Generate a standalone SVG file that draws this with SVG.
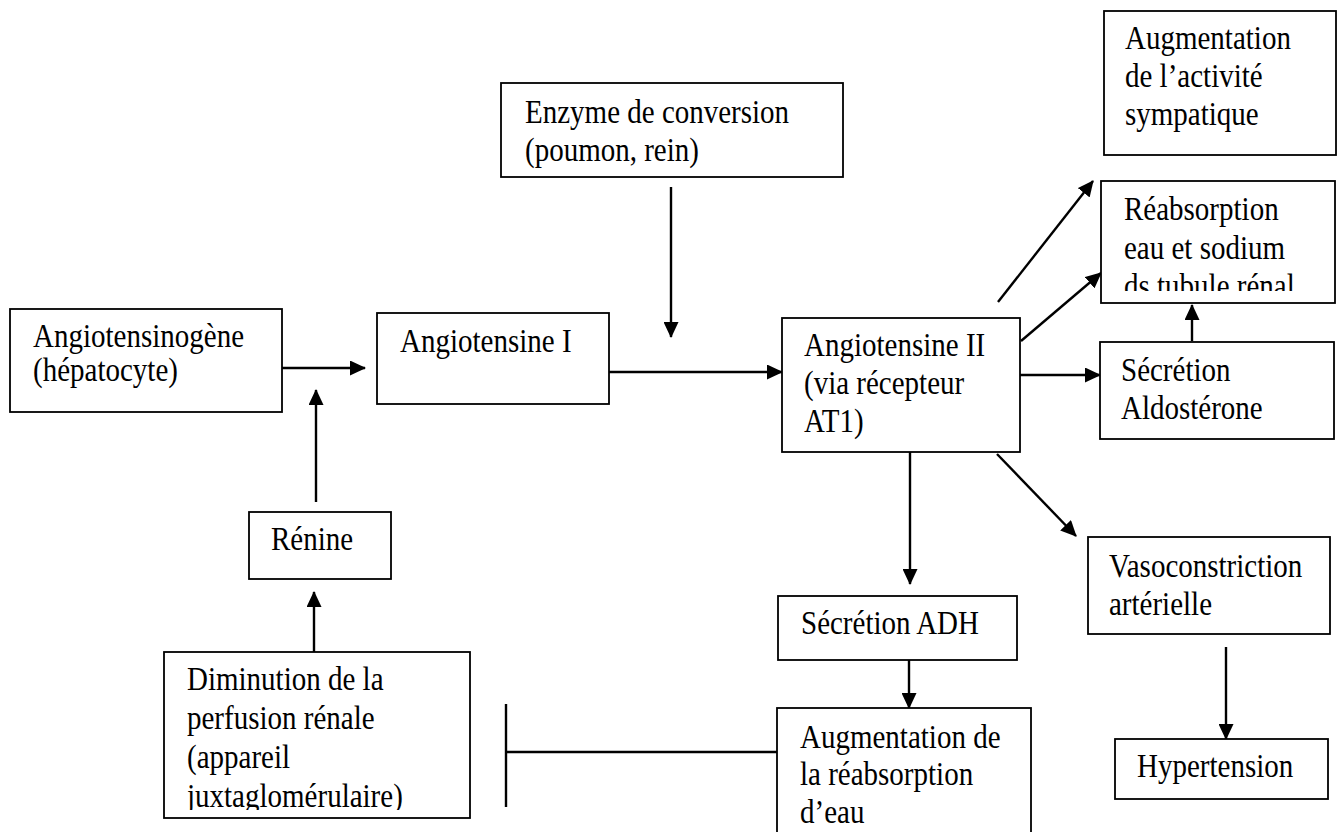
<svg xmlns="http://www.w3.org/2000/svg" width="1344" height="832" viewBox="0 0 1344 832">
<style>
.box{fill:#fff;stroke:#000;stroke-width:1.8}
.t{font-family:"Liberation Serif","Times New Roman",serif;font-size:29px;fill:#000}
.c{stroke:#000;stroke-width:2.4;fill:none}
.ca{stroke:#000;stroke-width:2.4;fill:none;marker-end:url(#ah)}
</style>
<defs>
<marker id="ah" markerUnits="userSpaceOnUse" markerWidth="16" markerHeight="15" viewBox="0 0 16 15" refX="15" refY="7.5" orient="auto">
<path d="M0,0 L16,7.5 L0,15 z" fill="#000"/>
</marker>
<clipPath id="clipR"><rect x="1100" y="178" width="236" height="113"/></clipPath>
<clipPath id="clipD"><rect x="163" y="650" width="310" height="160"/></clipPath>
</defs>
<rect width="1344" height="832" fill="#fff"/>

<g id="connectors">
<line class="ca" x1="282" y1="368" x2="365" y2="368"/>
<line class="ca" x1="316" y1="502" x2="316" y2="390"/>
<line class="ca" x1="314" y1="652" x2="314" y2="592"/>
<line class="ca" x1="671" y1="187" x2="671" y2="337"/>
<line class="ca" x1="609" y1="372" x2="782" y2="372"/>
<line class="ca" x1="998" y1="302" x2="1093" y2="181"/>
<line class="ca" x1="1021" y1="341" x2="1101" y2="273"/>
<line class="ca" x1="1020" y1="375" x2="1100" y2="375"/>
<line class="ca" x1="1192" y1="341" x2="1192" y2="305"/>
<line class="ca" x1="910" y1="452" x2="910" y2="584"/>
<line class="ca" x1="997" y1="454" x2="1076" y2="536"/>
<line class="ca" x1="909" y1="660" x2="909" y2="708"/>
<line class="ca" x1="1226" y1="647" x2="1226" y2="739"/>
<line class="c" x1="506" y1="752" x2="777" y2="752"/>
<line class="c" x1="506" y1="704" x2="506" y2="807"/>
</g>

<g id="angiotensinogene">
<rect class="box" x="10" y="309" width="272" height="103"/>
<text class="t" transform="translate(33,347) scale(1,1.15)"><tspan x="0" y="0">Angiotensinogène</tspan><tspan x="0" dy="29.6">(hépatocyte)</tspan></text>
</g>

<g id="angiotensine-i">
<rect class="box" x="377" y="313" width="232" height="91"/>
<text class="t" transform="translate(400,352) scale(1,1.15)"><tspan x="0" y="0">Angiotensine I</tspan></text>
</g>

<g id="enzyme">
<rect class="box" x="501" y="83" width="342" height="94"/>
<text class="t" transform="translate(525,123) scale(1,1.15)"><tspan x="0" y="0">Enzyme de conversion</tspan><tspan x="0" dy="33">(poumon, rein)</tspan></text>
</g>

<g id="angiotensine-ii">
<rect class="box" x="782" y="318" width="238" height="134"/>
<text class="t" transform="translate(804,356) scale(1,1.15)"><tspan x="0" y="0">Angiotensine II</tspan><tspan x="0" dy="33">(via récepteur</tspan><tspan x="0" dy="33">AT1)</tspan></text>
</g>

<g id="activite-sympatique">
<rect class="box" x="1104" y="11" width="232" height="144"/>
<text class="t" transform="translate(1125,49) scale(1,1.15)"><tspan x="0" y="0">Augmentation</tspan><tspan x="0" dy="33">de l’activité</tspan><tspan x="0" dy="33">sympatique</tspan></text>
</g>

<g id="reabsorption-sodium">
<rect class="box" x="1101" y="181" width="234" height="122"/>
<g clip-path="url(#clipR)">
<text class="t" transform="translate(1124,220) scale(1,1.15)"><tspan x="0" y="0">Réabsorption</tspan><tspan x="0" dy="33.5">eau et sodium</tspan><tspan x="0" dy="33.5">ds tubule rénal</tspan></text>
</g>
</g>

<g id="aldosterone">
<rect class="box" x="1100" y="342" width="234" height="97"/>
<text class="t" transform="translate(1121,381) scale(1,1.15)"><tspan x="0" y="0">Sécrétion</tspan><tspan x="0" dy="33">Aldostérone</tspan></text>
</g>

<g id="renine">
<rect class="box" x="249" y="512" width="142" height="67"/>
<text class="t" transform="translate(271,550) scale(1,1.15)"><tspan x="0" y="0">Rénine</tspan></text>
</g>

<g id="diminution-perfusion">
<rect class="box" x="164" y="652" width="306" height="166"/>
<g clip-path="url(#clipD)">
<text class="t" transform="translate(187,690) scale(1,1.15)"><tspan x="0" y="0">Diminution de la</tspan><tspan x="0" dy="34">perfusion rénale</tspan><tspan x="0" dy="34">(appareil</tspan><tspan x="0" dy="34">juxtaglomérulaire)</tspan></text>
</g>
</g>

<g id="secretion-adh">
<rect class="box" x="778" y="596" width="239" height="64"/>
<text class="t" transform="translate(801,634) scale(1,1.15)"><tspan x="0" y="0">Sécrétion ADH</tspan></text>
</g>

<g id="reabsorption-eau">
<rect class="box" x="777" y="708" width="254" height="140"/>
<text class="t" transform="translate(800,748) scale(1,1.15)"><tspan x="0" y="0">Augmentation de</tspan><tspan x="0" dy="32.5">la réabsorption</tspan><tspan x="0" dy="32.5">d’eau</tspan></text>
</g>

<g id="vasoconstriction">
<rect class="box" x="1088" y="537" width="242" height="97"/>
<text class="t" transform="translate(1109,577) scale(1,1.15)"><tspan x="0" y="0">Vasoconstriction</tspan><tspan x="0" dy="33">artérielle</tspan></text>
</g>

<g id="hypertension">
<rect class="box" x="1115" y="739" width="213" height="60"/>
<text class="t" transform="translate(1137,777) scale(1,1.15)"><tspan x="0" y="0">Hypertension</tspan></text>
</g>
</svg>
